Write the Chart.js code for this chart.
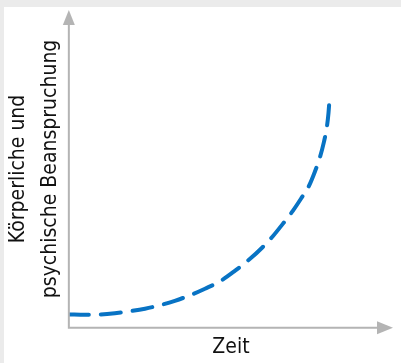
<!DOCTYPE html>
<html lang="de">
<head>
  <meta charset="UTF-8" />
  <title>Beanspruchung über Zeit</title>
  <script src="https://cdn.jsdelivr.net/npm/chart.js"></script>
  <style>
    html, body { margin: 0; padding: 0; background: #ebebeb; }
    canvas { display: block; }
  </style>
</head>
<body>
  <canvas id="grafico" width="401" height="363"></canvas>

  <script>
    // Werte (Achsen 0..100, ohne Skala)
    const zeit = [0, 4.9, 9.6, 14.2, 18.8, 23.5, 28.1, 32.7, 37.3, 42.0, 46.6, 51.2, 55.9,
                  59.6, 63.0, 66.0, 69.1, 71.6, 74.1, 75.9, 77.5, 78.7, 79.6, 80.1, 80.4];
    const beanspruchung = [4.2, 4.1, 4.2, 4.6, 5.2, 6.0, 7.1, 8.5, 10.2, 12.3, 14.6, 17.9, 21.7,
                           25.2, 28.9, 32.7, 36.8, 40.6, 44.7, 49.1, 53.8, 58.5, 63.2, 67.6, 71.7];
    const titelY = ['Körperliche und', 'psychische Beanspruchung'];
    const titelX = 'Zeit';

    const schrift = '"Liberation Sans Narrow", "DejaVu Sans Condensed", "Arial Narrow", sans-serif';
    const achsenFarbe = '#b4b4b4';

    // Hintergrund + Achsen mit Pfeilspitzen
    const achsenPlugin = {
      id: 'achsen',
      beforeDraw(chart) {
        const { ctx, width, height } = chart;
        ctx.save();
        ctx.fillStyle = '#ebebeb';
        ctx.fillRect(0, 0, width, height);
        ctx.fillStyle = '#ffffff';
        ctx.fillRect(4, 7, width - 4, height - 7);
        ctx.restore();
      },
      afterDatasetsDraw(chart) {
        const { ctx, chartArea: a } = chart;
        ctx.save();
        ctx.strokeStyle = achsenFarbe;
        ctx.fillStyle = achsenFarbe;
        ctx.lineWidth = 2;
        ctx.beginPath();
        ctx.moveTo(a.left, a.top + 12);
        ctx.lineTo(a.left, a.bottom);
        ctx.lineTo(a.right - 12, a.bottom);
        ctx.stroke();
        // Pfeil oben
        ctx.beginPath();
        ctx.moveTo(a.left, a.top);
        ctx.lineTo(a.left - 6, a.top + 15);
        ctx.lineTo(a.left + 6, a.top + 15);
        ctx.closePath();
        ctx.fill();
        // Pfeil rechts
        ctx.beginPath();
        ctx.moveTo(a.right, a.bottom);
        ctx.lineTo(a.right - 16, a.bottom - 6.5);
        ctx.lineTo(a.right - 16, a.bottom + 6.5);
        ctx.closePath();
        ctx.fill();
        ctx.restore();
      }
    };

    const ctx = document.getElementById('grafico').getContext('2d');
    new Chart(ctx, {
      type: 'line',
      data: {
        labels: zeit,
        datasets: [{
          data: zeit.map((x, i) => ({ x: x, y: beanspruchung[i] })),
          borderColor: '#0873c4',
          borderWidth: 4,
          borderDash: [20, 12],
          borderCapStyle: 'round',
          cubicInterpolationMode: 'monotone',
          pointRadius: 0,
          fill: false
        }]
      },
      options: {
        responsive: false,
        animation: false,
        devicePixelRatio: 1,
        layout: { padding: { left: 0, right: 8, top: 10, bottom: 0 } },
        plugins: {
          legend: { display: false },
          tooltip: { enabled: false }
        },
        scales: {
          x: {
            type: 'linear',
            min: 0,
            max: 100,
            grid: { display: false, drawTicks: false },
            border: { display: false },
            ticks: { display: false },
            title: {
              display: true,
              text: titelX,
              color: '#111111',
              font: { family: schrift, size: 21, lineHeight: 1.2 },
              padding: { top: 7.5, bottom: 2.5 }
            }
          },
          y: {
            min: 0,
            max: 100,
            grid: { display: false, drawTicks: false },
            border: { display: false },
            ticks: { display: false },
            title: {
              display: true,
              text: titelY,
              color: '#111111',
              font: { family: schrift, size: 21, lineHeight: 1.52 },
              padding: { top: 3, bottom: 2 }
            }
          }
        }
      },
      plugins: [achsenPlugin]
    });
  </script>
</body>
</html>
